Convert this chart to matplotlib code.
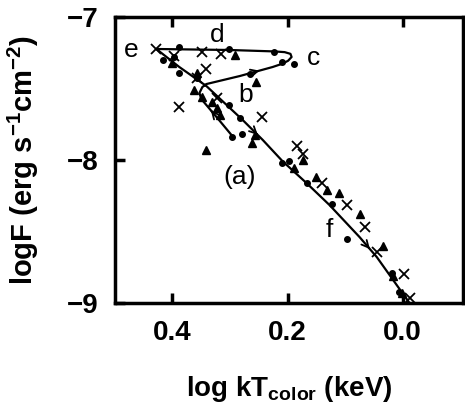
import numpy as np
import matplotlib
matplotlib.use('Agg')
import matplotlib.pyplot as plt

plt.rcParams['font.family'] = ['Liberation Sans', 'DejaVu Sans']
plt.rcParams['font.weight'] = 'bold'
plt.rcParams['mathtext.fontset'] = 'custom'
plt.rcParams['mathtext.rm'] = 'Liberation Sans:bold'
plt.rcParams['mathtext.it'] = 'Liberation Sans:bold'

# log kT_color (keV), log F
dot_x = [0.388, 0.301, 0.223, 0.209, 0.188, 0.266, 0.417, 0.397, 0.388, 0.357,
         0.301, 0.283, 0.296, 0.280, 0.209, 0.197, 0.167, 0.122, 0.097, 0.019, 0.007]
dot_y = [-7.210, -7.224, -7.245, -7.315, -7.329, -7.399, -7.301, -7.280, -7.392, -7.427,
         -7.615, -7.706, -7.839, -7.818, -8.021, -8.007, -8.161, -8.308, -8.552, -8.790, -8.923]

tri_x = [0.292, 0.254, 0.358, 0.400, 0.362, 0.348, 0.332, 0.322, 0.318, 0.257, 0.261,
         0.341, 0.174, 0.188, 0.150, 0.132, 0.111, 0.075, 0.035, 0.016, 0.002]
tri_y = [-7.266, -7.455, -7.392, -7.322, -7.510, -7.559, -7.594, -7.636, -7.685, -7.825, -7.881,
         -7.930, -8.000, -8.056, -8.119, -8.210, -8.231, -8.378, -8.601, -8.811, -8.930]

crs_x = [0.428, 0.348, 0.315, 0.341, 0.388, 0.397, 0.358, 0.322, 0.245, 0.184, 0.174,
         0.141, 0.097, 0.066, 0.045, -0.003, -0.012]
crs_y = [-7.224, -7.245, -7.259, -7.364, -7.629, -7.273, -7.427, -7.566, -7.699, -7.902, -7.958,
         -8.161, -8.315, -8.469, -8.643, -8.797, -8.965]

# evolution track: hook -> b -> c -> d -> e -> f
path_x = [0.296, 0.322, 0.350, 0.353, 0.348, 0.341, 0.283, 0.226, 0.209, 0.199, 0.193,
          0.195, 0.205, 0.223, 0.301, 0.428,
          0.388, 0.341, 0.278, 0.243, 0.209, 0.167, 0.127, 0.075, 0.045, -0.012]
path_y = [-7.832, -7.706, -7.573, -7.531, -7.490, -7.469, -7.413, -7.350, -7.327, -7.306, -7.280,
          -7.258, -7.246, -7.241, -7.231, -7.224,
          -7.350, -7.483, -7.720, -7.860, -8.007, -8.161, -8.315, -8.538, -8.678, -9.000]

# (segment index, fraction along segment) for the arrow heads
arrow_at = [(1, 0.4), (6, 0.6), (18, 0.75), (23, 0.6)]

labels = ['e', 'd', 'c', 'b', '(a)', 'f']
label_x = [0.471, 0.322, 0.155, 0.272, 0.283, 0.127]
label_y = [-7.231, -7.126, -7.287, -7.545, -8.119, -8.49]

fig = plt.figure(figsize=(4.65, 4.13), dpi=100)
ax = fig.add_axes([0.247, 0.266, 0.749, 0.693])

ax.plot(path_x, path_y, color='black', lw=1.6, zorder=2)
for i, t in arrow_at:
    x0, y0 = path_x[i], path_y[i]
    x1, y1 = path_x[i + 1], path_y[i + 1]
    xa, ya = x0 + t * (x1 - x0), y0 + t * (y1 - y0)
    xb, yb = x0 + (t - 0.05) * (x1 - x0), y0 + (t - 0.05) * (y1 - y0)
    ax.annotate('', xy=(xa, ya), xytext=(xb, yb),
                arrowprops=dict(arrowstyle='->,head_length=0.5,head_width=0.25',
                                color='black', lw=1.3))

ax.plot(dot_x, dot_y, 'o', color='black', ms=4, zorder=3)
ax.plot(tri_x, tri_y, '^', color='black', ms=5.5, zorder=3)
ax.plot(crs_x, crs_y, 'x', color='black', ms=6.5, mew=1.3, zorder=3)

for s, x, y in zip(labels, label_x, label_y):
    ax.text(x, y, s, fontsize=19, fontweight='normal', ha='center', va='center')

ax.set_xlim(0.5, -0.105)
ax.set_ylim(-9, -7)
ax.set_xticks([0.4, 0.2, 0.0])
ax.set_xticklabels(['0.4', '0.2', '0.0'])
ax.set_yticks([-7, -8, -9])
ax.set_yticklabels(['\u22127', '\u22128', '\u22129'])
ax.tick_params(axis='x', direction='in', top=True, length=7, width=2.5, pad=12, labelsize=20)
ax.tick_params(axis='y', direction='in', length=7, width=2.5, pad=12, labelsize=20)
for sp in ax.spines.values():
    sp.set_linewidth(2.5)

ax.set_xlabel(r'log kT$_{\mathrm{color}}$ (keV)', fontsize=20, fontweight='bold', labelpad=20)
ax.set_ylabel(r'logF (erg s$^{-1}$cm$^{-2}$)', fontsize=21, fontweight='bold', labelpad=18)

fig.savefig('out.png', dpi=100)
